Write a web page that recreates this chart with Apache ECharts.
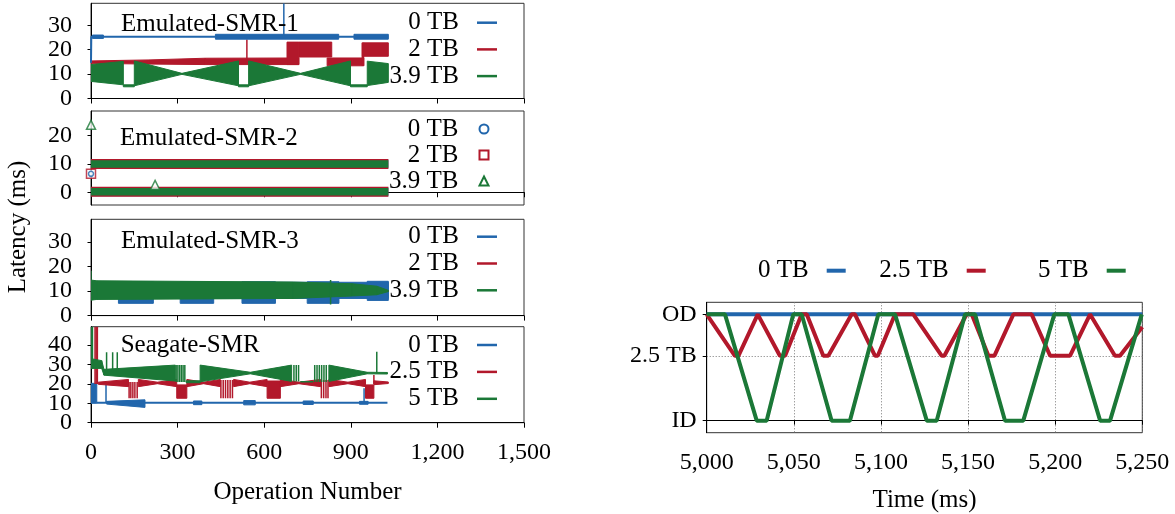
<!DOCTYPE html>
<html><head><meta charset="utf-8">
<script src="https://cdn.jsdelivr.net/npm/echarts@6/dist/echarts.min.js"></script>
<style>html,body{margin:0;padding:0;background:#fff}#c{width:1175px;height:514px}</style>
</head><body><div id="c"></div>
<script>
// ================= DATA =================
// Left panels: x = operation number, y = latency (ms)
const opTicks = [0, 300, 600, 900, 1200, 1500];
const p1Ticks = [0, 10, 20, 30];
const p2Ticks = [0, 10, 20];
const p3Ticks = [0, 10, 20, 30];
const p4Ticks = [0, 10, 20, 30, 40];
const panelTitles = ['Emulated-SMR-1', 'Emulated-SMR-2', 'Emulated-SMR-3', 'Seagate-SMR'];
const legendA = ['0 TB', '2 TB', '3.9 TB'];
const legendB = ['0 TB', '2.5 TB', '5 TB'];

// --- Emulated-SMR-1 ---
const p1_0tb_x = [0, 1, 1030];
const p1_0tb_y = [14.6, 25.3, 25.3];
const p1_0tb_band_x  = [5, 43, null, 431, 858, null, 911, 1030];
const p1_0tb_band_hi = [26.0, 26.0, null, 26.3, 26.3, null, 26.3, 26.3];
const p1_0tb_band_lo = [24.6, 24.6, null, 24.3, 24.3, null, 24.3, 24.3];
const p1_0tb_spikes = [[668, 25.3, 39]];

const p1_2tb_band_x  = [0, 200, 396, 720, null, 679, 720, null, 720, 834, null, 818, 945, null, 940, 1030];
const p1_2tb_band_hi = [15.4, 15.8, 16.5, 16.6, null, 23.1, 23.1, null, 23.1, 23.1, null, 16.6, 16.6, null, 22.8, 22.8];
const p1_2tb_band_lo = [14.4, 14.1, 13.9, 13.9, null, 13.9, 13.9, null, 17.0, 17.0, null, 13.4, 13.4, null, 17.3, 17.3];
const p1_2tb_spikes = [[540, 16, 24.2], [940, 13.4, 22.8], [944, 13.4, 22.8]];

const p1_39tb_band_x  = [0, 112, null, 112, 150, null, 150, 315, 511, null, 511, 546, null, 546, 726, 899, null, 899, 957, null, 957, 1030];
const p1_39tb_band_hi = [13.9, 15.2, null, 5.6, 5.6, null, 15.4, 10.3, 15.4, null, 5.6, 5.6, null, 15.4, 10.3, 15.4, null, 5.6, 5.6, null, 15.3, 14.3];
const p1_39tb_band_lo = [7.0, 5.6, null, 4.8, 4.8, null, 5.2, 9.9, 5.2, null, 4.8, 4.8, null, 5.2, 9.9, 5.2, null, 4.8, 4.8, null, 5.3, 6.6];

// --- Emulated-SMR-2 (dense point clouds at two latency levels) ---
const p2_level_x = [0, 1030];
const p2_levels = [10.0, 0.2];
const p2_0tb_pts = [[0, 6.5]];
const p2_2tb_pts = [[0, 6.5]];
const p2_39tb_pts = [[0, 23.8], [222, 2.6]];

// --- Emulated-SMR-3 ---
const p3_0tb_band_x  = [0, 1030, null, 95, 216, null, 309, 425, null, 523, 639, null, 749, 859, null, 957, 1030];
const p3_0tb_band_hi = [13.6, 13.6, null, 13.8, 13.8, null, 13.8, 13.8, null, 13.8, 13.8, null, 13.8, 13.8, null, 14.0, 14.0];
const p3_0tb_band_lo = [7.0, 7.0, null, 5.0, 5.0, null, 5.0, 5.0, null, 5.0, 5.0, null, 5.0, 5.0, null, 6.2, 6.2];
const p3_2tb_x = [0, 1030];
const p3_2tb_y = [10.0, 10.0];
const p3_39tb_band_x  = [0, 20, 700, 905, 990, 1030];
const p3_39tb_band_hi = [14.5, 14.2, 13.7, 13.0, 12.0, 10.3];
const p3_39tb_band_lo = [6.3, 6.6, 7.0, 8.0, 8.5, 9.8];
const p3_39tb_spikes = [[0, 10, 18.3], [830, 4.5, 14.5]];

// --- Seagate-SMR ---
const p4_0tb_x = [20, 1027];
const p4_0tb_y = [10.3, 10.3];
const p4_0tb_band_x  = [0, 20, null, 54, 187, null, 355, 384, null, 529, 569, null, 735, 770, null, 930, 960];
const p4_0tb_band_hi = [20.3, 20.3, null, 11.0, 11.8, null, 11.2, 11.2, null, 11.4, 11.4, null, 11.2, 11.2, null, 11.0, 11.0];
const p4_0tb_band_lo = [10.0, 10.0, null, 9.6, 7.9, null, 9.3, 9.3, null, 9.2, 9.2, null, 9.4, 9.4, null, 9.5, 9.5];
const p4_0tb_spikes = [[52, 10.3, 20.3], [946, 10.3, 17.7]];

const p4_25tb_band_x  = [25, 130, null, 164, 230, 297, null, 297, 332, null, 332, 390, 448, null, 494, 550, 610, null, 610, 656, null, 656, 720, 795, null, 824, 890, 951, null, 951, 980, null, 980, 1030];
const p4_25tb_band_hi = [20.9, 22.3, null, 22.3, 20.9, 22.3, null, 19.5, 19.5, null, 22.3, 20.9, 22.3, null, 22.3, 20.9, 22.3, null, 21.5, 21.5, null, 22.3, 20.9, 22.3, null, 22.3, 20.9, 22.3, null, 19.5, 19.5, null, 21.6, 21.0];
const p4_25tb_band_lo = [19.8, 18.6, null, 18.6, 20.1, 18.6, null, 12.6, 12.6, null, 18.6, 20.1, 18.6, null, 18.6, 20.1, 18.6, null, 12.6, 12.6, null, 18.6, 20.1, 18.6, null, 18.6, 20.1, 18.6, null, 12.6, 12.6, null, 19.6, 20.2];
const p4_25tb_spikes = [[14, 20, 49.5], [18, 20, 49.5], [22, 20, 49.5],
  [132, 12.6, 21], [138, 12.6, 21], [145, 12.6, 21], [152, 12.6, 21], [160, 12.6, 21],
  [450, 12.6, 22], [458, 12.6, 22], [466, 12.6, 22], [474, 12.6, 22], [482, 12.6, 22], [490, 12.6, 22],
  [798, 12.6, 22], [806, 12.6, 22], [814, 12.6, 22], [821, 12.6, 22], [980, 20, 24.6]];

const p4_5tb_band_x  = [0, 37, 45, 292, null, 330, 378, null, 378, 552, 695, null, 824, 957, null, 957, 1027];
const p4_5tb_band_hi = [33.0, 32.0, 27.5, 29.7, null, 21.6, 21.6, null, 29.7, 26.0, 29.7, null, 29.7, 26.0, null, 26.0, 25.9];
const p4_5tb_band_lo = [28.0, 28.0, 24.5, 21.5, null, 20.6, 20.6, null, 21.1, 25.2, 21.3, null, 21.3, 25.2, null, 25.2, 25.1];
const p4_5tb_spikes = [[2, 28, 49.5], [5, 28, 49.5], [54, 26, 36.3], [75, 26, 36.3], [91, 26, 36.3],
  [295, 21, 29.7], [301, 21, 29.7], [307, 21, 29.7], [313, 21, 29.7], [319, 21, 29.7], [325, 21, 29.7],
  [703, 21.3, 29.7], [711, 21.3, 29.7], [719, 21.3, 29.7], [775, 21, 29.7], [783, 21, 29.7], [791, 21, 29.7],
  [799, 21, 29.7], [807, 21, 29.7], [815, 21, 29.7], [990, 25.5, 36.6]];
const p4_5tb_low_x = [725, 770];
const p4_5tb_low_y = [21.1, 21.1];

// Right chart: head position over time
const timeTicks = [5000, 5050, 5100, 5150, 5200, 5250];
const posValues = [0, 0.61, 1];
const posLabels = ['ID', '2.5 TB', 'OD'];
const rt_0tb_x = [5000, 5250];
const rt_0tb_y = [1, 1];
const rt_25tb_x = [5000, 5016.2, 5018.2, 5029.3, 5042, 5045, 5054.5, 5057.4, 5066.9, 5069.8, 5083.2, 5085.1, 5096.6, 5098.2, 5108.1, 5118.6, 5134.9, 5136.4, 5149.2, 5152.1, 5161.7, 5165.1, 5176.0, 5186.5, 5197.1, 5208.5, 5220, 5234.3, 5237.2, 5250];
const rt_25tb_y = [1, 0.61, 0.61, 1, 0.61, 0.61, 1, 1, 0.61, 0.61, 1, 1, 0.61, 0.61, 1, 1, 0.61, 0.61, 1, 1, 0.61, 0.61, 1, 1, 0.61, 0.61, 1, 0.61, 0.61, 0.88];
const rt_5tb_x = [5000, 5010.5, 5028.7, 5034.4, 5049.7, 5054.5, 5071.7, 5082.2, 5098.5, 5108.1, 5126.3, 5132, 5148.3, 5154, 5171.2, 5181.7, 5199.5, 5207.6, 5225.8, 5231.5, 5249.7];
const rt_5tb_y = [1, 1, 0, 0, 1, 1, 0, 0, 1, 1, 0, 0, 1, 1, 0, 0, 1, 1, 0, 0, 1];

// ================= CHART =================
const FONT = 'Liberation Serif';
const C0 = '#2166ac', C1 = '#b2182b', C2 = '#1b7837';
const tick = {fontFamily: FONT, fontSize: 24, color: '#000'};
const txt = {fontFamily: FONT, fontSize: 25, color: '#000'};

function pairs(xs, ys) { return xs.map((x, i) => [x, ys[i]]); }
function bandData(xs, hi, lo) {
  const out = [];
  for (let i = 0; i < xs.length - 1; i++) {
    if (xs[i] == null || xs[i + 1] == null) continue;
    out.push([xs[i], hi[i], lo[i], xs[i + 1], hi[i + 1], lo[i + 1]]);
  }
  return out;
}
function renderBand(params, api) {
  const a = api.coord([api.value(0), api.value(1)]);
  const b = api.coord([api.value(3), api.value(4)]);
  const c = api.coord([api.value(3), api.value(5)]);
  const d = api.coord([api.value(0), api.value(2)]);
  const col = api.visual('color');
  return {type: 'polygon', shape: {points: [a, b, c, d]}, style: {fill: col, stroke: col, lineWidth: 1}};
}
function renderVLine(params, api) {
  const a = api.coord([api.value(0), api.value(1)]);
  const b = api.coord([api.value(0), api.value(2)]);
  return {type: 'line', shape: {x1: a[0], y1: a[1], x2: b[0], y2: b[1]}, style: {stroke: api.visual('color'), lineWidth: 1.5}};
}
const series = [];
function band(name, gi, xs, hi, lo, color, z) {
  series.push({type: 'custom', name, xAxisIndex: gi, yAxisIndex: gi, renderItem: renderBand, clip: true,
    itemStyle: {color}, encode: {x: [0, 3], y: [1, 2, 4, 5]}, data: bandData(xs, hi, lo), z, silent: true});
}
function vlines(name, gi, data, color, z) {
  series.push({type: 'custom', name, xAxisIndex: gi, yAxisIndex: gi, renderItem: renderVLine, clip: true,
    itemStyle: {color}, encode: {x: 0, y: [1, 2]}, data, z, silent: true});
}
function line(name, gi, xs, ys, color, width, z) {
  series.push({type: 'line', name, xAxisIndex: gi, yAxisIndex: gi, data: pairs(xs, ys), symbol: 'none',
    itemStyle: {color}, lineStyle: {color, width}, z, silent: true, clip: true});
}
function scatter(name, gi, data, color, symbol, size, z) {
  series.push({type: 'scatter', name, xAxisIndex: gi, yAxisIndex: gi, data, symbol, symbolSize: size,
    itemStyle: {color: '#fff', borderColor: color, borderWidth: 1.5}, z, silent: true});
}

// Panel 1
line('0 TB', 0, p1_0tb_x, p1_0tb_y, C0, 2, 3);
band('0 TB', 0, p1_0tb_band_x, p1_0tb_band_hi, p1_0tb_band_lo, C0, 3);
vlines('0 TB', 0, p1_0tb_spikes, C0, 3);
band('2 TB', 0, p1_2tb_band_x, p1_2tb_band_hi, p1_2tb_band_lo, C1, 2);
vlines('2 TB', 0, p1_2tb_spikes, C1, 2);
band('3.9 TB', 0, p1_39tb_band_x, p1_39tb_band_hi, p1_39tb_band_lo, C2, 2);
// Panel 2
p2_levels.forEach(v => {
  line('0 TB', 1, p2_level_x, p2_level_x.map(() => v), C0, 9, 2);
  line('2 TB', 1, p2_level_x, p2_level_x.map(() => v), C1, 10, 3);
  line('3.9 TB', 1, p2_level_x, p2_level_x.map(() => v), C2, 7.5, 4);
});
scatter('2 TB', 1, p2_2tb_pts, C1, 'rect', 9, 3);
scatter('0 TB', 1, p2_0tb_pts, C0, 'circle', 5, 4);
scatter('3.9 TB', 1, p2_39tb_pts, C2, 'triangle', 9, 5);
// Panel 3
band('0 TB', 2, p3_0tb_band_x, p3_0tb_band_hi, p3_0tb_band_lo, C0, 2);
line('2 TB', 2, p3_2tb_x, p3_2tb_y, C1, 2, 3);
band('3.9 TB', 2, p3_39tb_band_x, p3_39tb_band_hi, p3_39tb_band_lo, C2, 4);
vlines('3.9 TB', 2, p3_39tb_spikes, C2, 4);
// Panel 4
line('0 TB', 3, p4_0tb_x, p4_0tb_y, C0, 2, 2);
band('0 TB', 3, p4_0tb_band_x, p4_0tb_band_hi, p4_0tb_band_lo, C0, 2);
vlines('0 TB', 3, p4_0tb_spikes, C0, 2);
band('2.5 TB', 3, p4_25tb_band_x, p4_25tb_band_hi, p4_25tb_band_lo, C1, 3);
vlines('2.5 TB', 3, p4_25tb_spikes, C1, 3);
band('5 TB', 3, p4_5tb_band_x, p4_5tb_band_hi, p4_5tb_band_lo, C2, 4);
vlines('5 TB', 3, p4_5tb_spikes, C2, 4);
line('5 TB', 3, p4_5tb_low_x, p4_5tb_low_y, C2, 1.5, 4);
// Right chart
line('0 TB', 4, rt_0tb_x, rt_0tb_y, C0, 4, 2);
line('2.5 TB', 4, rt_25tb_x, rt_25tb_y, C1, 4, 3);
line('5 TB', 4, rt_5tb_x, rt_5tb_y, C2, 4, 4);

const grids = [
  {left: 91, top: 3.3, width: 433, height: 95.2},
  {left: 91, top: 111, width: 433, height: 94},
  {left: 91, top: 219.3, width: 433, height: 96.3},
  {left: 91, top: 326.7, width: 433, height: 96},
  {left: 706.7, top: 302.3, width: 435.6, height: 130.4}
].map(g => Object.assign(g, {show: true, borderColor: '#333', borderWidth: 1, containLabel: false, outerBoundsMode: 'none'}));

const xAxes = [0, 1, 2, 3].map(i => ({
  gridIndex: i, type: 'value', position: 'bottom', min: opTicks[0], max: opTicks[opTicks.length - 1], interval: opTicks[1] - opTicks[0],
  axisLine: {show: true, lineStyle: {color: '#000', width: 1}},
  axisTick: {show: true, inside: false, length: 5, lineStyle: {color: '#000'}},
  axisLabel: Object.assign({show: i === 3, margin: 18, interval: 0, showMinLabel: true, showMaxLabel: true,
    formatter: v => v.toLocaleString('en-US')}, tick),
  splitLine: {show: false},
  name: i === 3 ? 'Operation Number' : '', nameLocation: 'middle', nameGap: 57, nameTextStyle: txt
}));
xAxes.push({
  gridIndex: 4, type: 'value', position: 'bottom', min: timeTicks[0], max: timeTicks[timeTicks.length - 1], interval: timeTicks[1] - timeTicks[0],
  axisLine: {show: true, lineStyle: {color: '#000', width: 1}},
  axisTick: {show: true, inside: false, length: 4, lineStyle: {color: '#000'}},
  axisLabel: Object.assign({margin: 18, interval: 0, showMinLabel: true, showMaxLabel: true,
    formatter: v => v.toLocaleString('en-US')}, tick),
  splitLine: {show: true, lineStyle: {color: '#777', type: [1, 2], width: 1}},
  name: 'Time (ms)', nameLocation: 'middle', nameGap: 55, nameTextStyle: txt
});

function yAxisFor(gi, min, max, tickVals, labelVals, showLine) {
  return {
    gridIndex: gi, type: 'value', position: 'left', offset: 0, min, max,
    axisLine: {show: showLine, lineStyle: {color: '#000', width: 1}},
    axisTick: {show: showLine, inside: false, length: 3.5, customValues: tickVals, lineStyle: {color: '#000'}},
    axisLabel: Object.assign({margin: 19, interval: 0, customValues: labelVals, showMinLabel: true, showMaxLabel: true}, tick),
    splitLine: {show: false}
  };
}
// Seagate panel labels are split over two coincident left axes so that none of them gets dropped
const p4LabelsA = p4Ticks.filter((v, i) => i % 2 === 0);
const p4LabelsB = p4Ticks.filter((v, i) => i % 2 === 1);
const yAxes = [
  yAxisFor(0, 0, 39, p1Ticks, p1Ticks, true),
  yAxisFor(1, -4.5, 28.7, p2Ticks, p2Ticks, true),
  yAxisFor(2, 0, 39.3, p3Ticks, p3Ticks, true),
  yAxisFor(3, 0, 49.5, p4Ticks, p4LabelsA, true)
];
yAxes.push({
  gridIndex: 4, type: 'value', position: 'left', min: -0.113, max: 1.113,
  axisLine: {show: true, lineStyle: {color: '#000', width: 1}},
  axisTick: {show: true, inside: false, length: 4, customValues: posValues, lineStyle: {color: '#000'}},
  axisLabel: Object.assign({margin: 10, interval: 0, customValues: posValues, showMinLabel: true, showMaxLabel: true,
    formatter: v => { const k = posValues.findIndex(p => Math.abs(p - v) < 1e-6); return k >= 0 ? posLabels[k] : ''; }}, tick),
  splitLine: {show: true, lineStyle: {color: '#777', type: [1, 2], width: 1}}
});
yAxes.push(yAxisFor(3, 0, 49.5, p4LabelsB, p4LabelsB, false));

function vLegend(names, rightPx, top, gap, w, h, icons, pad) {
  return {orient: 'vertical', align: 'right', right: rightPx, top, itemGap: gap, itemWidth: w, itemHeight: h,
    padding: 0, selectedMode: false, icon: 'rect', itemStyle: {borderWidth: 0},
    textStyle: Object.assign({padding: [0, pad, 0, 0]}, txt),
    data: names.map((n, i) => icons ? {name: n, icon: icons[i]} : {name: n})};
}
function hLegendItem(name, rightPx) {
  return {orient: 'horizontal', align: 'right', right: rightPx, top: 258.2, itemWidth: 19, itemHeight: 4,
    padding: 0, selectedMode: false, icon: 'rect', itemStyle: {borderWidth: 0},
    textStyle: Object.assign({padding: [0, 13, 0, 0]}, txt), data: [name]};
}
const legends = [
  vLegend(legendA, 678, 10.2, 1.7, 20, 2.5, null, 13),
  vLegend(legendA, 685.5, 116.5, 1.0, 9, 9, ['emptyCircle', 'emptyRect', 'emptyTriangle'], 16),
  vLegend(legendA, 678, 224.2, 1.8, 20, 2.5, null, 13),
  vLegend(legendB, 678, 332.5, 1.9, 20, 2.5, null, 13),
  hLegendItem(legendB[0], 329.3),
  hLegendItem(legendB[1], 189.3),
  hLegendItem(legendB[2], 49.3)
];

const titleY = [24.7, 138.3, 241.7, 345];
const titleX = [121, 120, 121, 120.7];
const graphics = panelTitles.map((t, i) => ({type: 'text', x: titleX[i], y: titleY[i], z: 10,
  style: {text: t, font: '25px "Liberation Serif"', fill: '#000', verticalAlign: 'middle'}}));
graphics.push({type: 'text', x: 18.5, y: 227, rotation: Math.PI / 2,
  style: {text: 'Latency (ms)', font: '25px "Liberation Serif"', fill: '#000', align: 'center', verticalAlign: 'middle'}});

const chart = echarts.init(document.getElementById('c'), null, {renderer: 'canvas'});
chart.setOption({
  animation: false, backgroundColor: '#fff',
  grid: grids, xAxis: xAxes, yAxis: yAxes, legend: legends, series, graphic: graphics
});
</script></body></html>
